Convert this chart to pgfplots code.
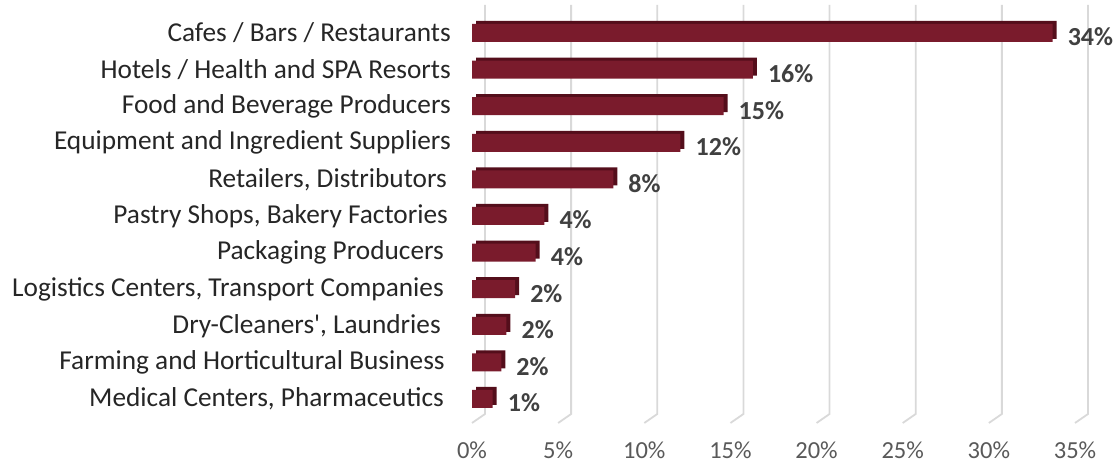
\documentclass[border=0pt]{standalone}
\usepackage{pgfplots}
\pgfplotsset{compat=1.18}
\usepackage{pgfplotstable}
\usepackage{fontspec}
\setmainfont{Carlito}
\definecolor{barfront}{RGB}{122,27,44}
\definecolor{barside}{RGB}{84,14,27}
\definecolor{gridc}{RGB}{217,217,217}
\definecolor{lab}{RGB}{38,38,38}
\definecolor{ticklab}{RGB}{89,89,89}
\definecolor{vallab}{RGB}{64,64,64}
\pgfplotstableread{
y x lab
10 33.7 34
9 16.3 16
8 14.6 15
7 12.1 12
6 8.2 8
5 4.2 4
4 3.7 4
3 2.5 2
2 2.0 2
1 1.7 2
0 1.2 1
}\data
\begin{document}
\begin{tikzpicture}
\useasboundingbox (0,0) rectangle (1118pt,465pt);
\begin{axis}[
  at={(472pt,42pt)}, anchor=south west,
  scale only axis, width=603pt, height=405pt,
  xmin=0, xmax=35, ymin=-0.656, ymax=10.41,
  xbar, bar width=18pt,
  clip=false,
  axis line style={draw=none}, major tick length=0pt,
  xtick={0,5,10,15,20,25,30,35},
  xticklabels={0\%,5\%,10\%,15\%,20\%,25\%,30\%,35\%},
  xticklabel style={font=\fontsize{24.5}{26}\selectfont, text=ticklab, inner sep=0pt, anchor=center, yshift=-27pt},
  ytick={0,1,2,3,4,5,6,7,8,9,10},
  yticklabels={Medical Centers{,} Pharmaceutics\hspace*{7pt},
    Farming and Horticultural Business\hspace*{6pt},
    Dry-Cleaners\textquotesingle{,} Laundries\hspace*{10pt},
    Logistics Centers{,} Transport Companies\hspace*{7pt},
    Packaging Producers\hspace*{7pt},
    Pastry Shops{,} Bakery Factories\hspace*{3pt},
    Retailers{,} Distributors\hspace*{4pt},
    Equipment and Ingredient Suppliers,
    Food and Beverage Producers,
    Hotels / Health and SPA Resorts,
    Cafes / Bars / Restaurants},
  yticklabel style={font=\fontsize{27.3}{29}\selectfont, text=lab, inner sep=0pt, anchor=east, xshift=-21pt},
]
\pgfplotsinvokeforeach{0,5,10,15,20,25,30,35}{
  \draw[gridc, line width=1.8pt] (axis cs:#1,-0.656) -- ([xshift=13pt,yshift=9pt]axis cs:#1,-0.656) -- ([xshift=13pt,yshift=13pt]axis cs:#1,10.41);
}
\addplot[fill=barside, draw=none, bar shift=3pt, xshift=4pt] table[x=x, y=y] {\data};
\addplot[fill=barfront, draw=none, bar shift=0pt,
  point meta=explicit symbolic,
  nodes near coords={\pgfplotspointmeta\%},
  every node near coord/.append style={font=\bfseries\fontsize{26}{28}\selectfont, text=vallab, anchor=west, inner sep=0pt, xshift=15pt, yshift=-4pt}]
  table[x=x, y=y, meta=lab] {\data};
\end{axis}
\end{tikzpicture}
\end{document}
